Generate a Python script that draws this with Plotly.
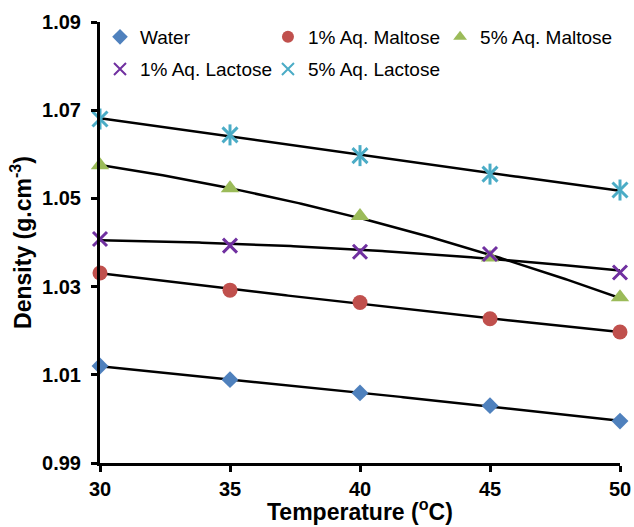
import numpy as np
import plotly.graph_objects as go

temps = [30, 35, 40, 45, 50]
water = [1.0120, 1.0089, 1.0059, 1.0030, 0.9995]
maltose_1 = [1.0331, 1.0292, 1.0264, 1.0227, 1.0197]
maltose_5 = [1.0575, 1.0523, 1.0460, 1.0366, 1.0276]
lactose_1 = [1.0408, 1.0393, 1.0379, 1.0374, 1.0332]
lactose_5 = [1.0680, 1.0644, 1.0597, 1.0555, 1.0519]

names = ["Water", "1% Aq. Maltose", "5% Aq. Maltose", "1% Aq. Lactose", "5% Aq. Lactose"]
series = [water, maltose_1, maltose_5, lactose_1, lactose_5]
colors = ["#4F81BD", "#C0504D", "#9BBB59", "#7030A0", "#4BACC6"]
symbols = ["diamond", "circle", "triangle-up", "x-thin-open", "x-thin-open"]
sizes = [13, 15, 16, 14, 15]
legend_ids = ["legend", "legend2", "legend3", "legend4", "legend5"]
legend_x = [0.0, 0.323, 0.654, 0.0, 0.323]
legend_y = [0.966, 0.966, 0.966, 0.893, 0.893]

fig = go.Figure()
font = "Liberation Sans, Arial, sans-serif"

# trendlines (polynomial order 2 fit of each series)
xf = np.linspace(30, 50, 200)
for ys in series:
    c = np.polyfit(temps, ys, 2)
    fig.add_trace(go.Scatter(x=xf, y=np.polyval(c, xf), mode="lines",
                             line=dict(color="black", width=2.5),
                             showlegend=False, hoverinfo="skip", cliponaxis=False))

for i, (nm, ys) in enumerate(zip(names, series)):
    mk = dict(symbol=symbols[i], color=colors[i], size=sizes[i])
    if "open" in symbols[i]:
        mk["line"] = dict(color=colors[i], width=3)
    fig.add_trace(go.Scatter(x=temps, y=ys, mode="markers", name=nm, marker=mk,
                             cliponaxis=False, legendgroup=nm, legend=legend_ids[i]))
    if i == 4:
        fig.add_trace(go.Scatter(x=temps, y=ys, mode="markers", marker=dict(
            symbol="line-ns-open", size=15, color=colors[i],
            line=dict(color=colors[i], width=3)),
            cliponaxis=False, showlegend=False, legendgroup=nm, hoverinfo="skip"))

legend_layout = {}
for lid, lx, ly in zip(legend_ids, legend_x, legend_y):
    legend_layout[lid] = dict(orientation="h", x=lx, y=ly, xanchor="left", yanchor="middle",
                              font=dict(size=19, family=font), bgcolor="rgba(0,0,0,0)",
                              itemsizing="constant")

fig.update_layout(
    width=634, height=527,
    margin=dict(l=100, r=14, t=22, b=64),
    paper_bgcolor="white", plot_bgcolor="white",
    font=dict(family=font, color="black"),
    xaxis=dict(range=[30, 50], dtick=5, tick0=30, showgrid=False, zeroline=False,
               automargin=False,
               showline=True, linecolor="black", linewidth=3,
               ticks="outside", ticklen=6, tickwidth=3, tickcolor="black",
               tickfont=dict(size=20, family=font, weight="bold")),
    yaxis=dict(range=[0.99, 1.09], dtick=0.02, tick0=0.99, tickformat=".2f",
               showgrid=False, zeroline=False, automargin=False,
               showline=True, linecolor="black", linewidth=3,
               ticks="outside", ticklen=6, tickwidth=3, tickcolor="black",
               ticklabelstandoff=6,
               tickfont=dict(size=20, family=font, weight="bold"),
               title=dict(text="Density (g.cm<sup>-3</sup>)", standoff=5,
                          font=dict(size=23, family=font, weight="bold"))),
    annotations=[dict(text="<b>Temperature (<sup>o</sup>C)</b>", xref="paper", yref="paper",
                      x=0.5, y=-0.1066, xanchor="center", yanchor="middle",
                      showarrow=False, font=dict(size=23, family=font, color="black"))],
    **legend_layout,
)

fig.write_html("out.html")
